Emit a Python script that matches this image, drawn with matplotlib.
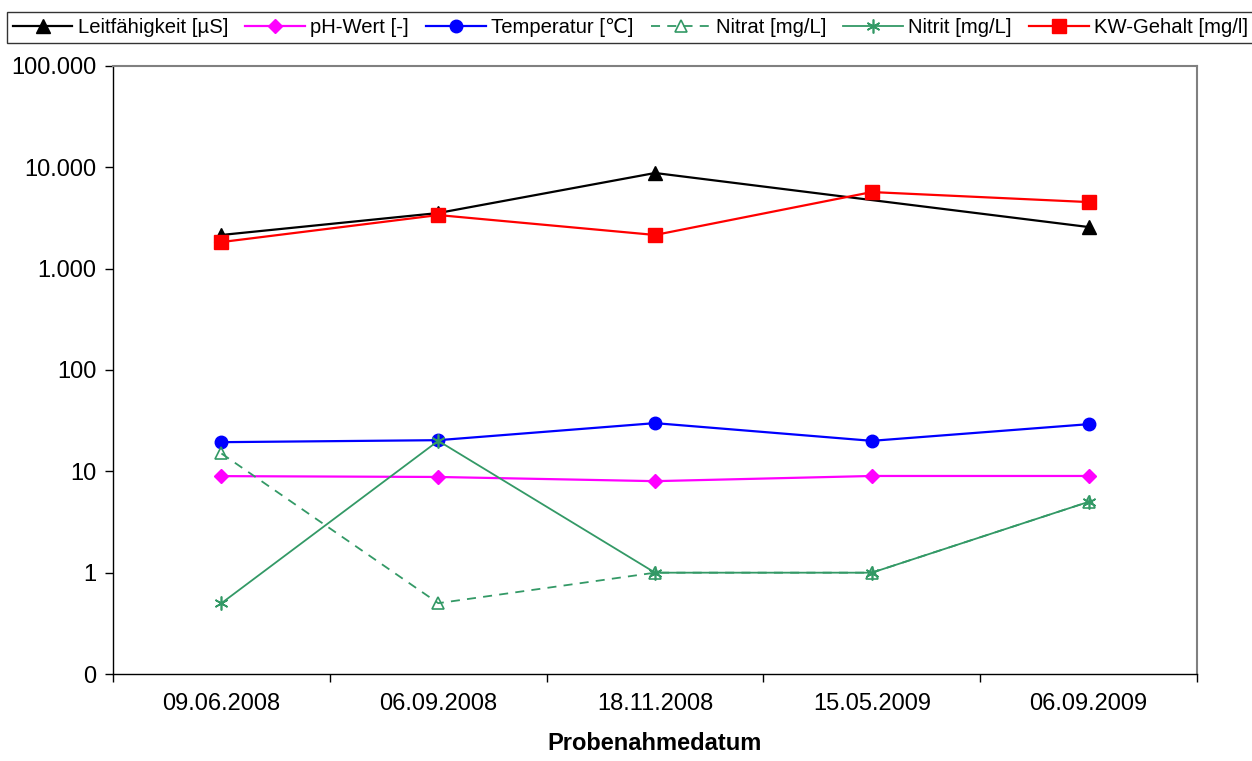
import matplotlib.pyplot as plt
from matplotlib.ticker import FixedLocator, FixedFormatter, NullLocator

plt.rcParams['font.family'] = ['Liberation Sans', 'DejaVu Sans']

dates = ['09.06.2008', '06.09.2008', '18.11.2008', '15.05.2009', '06.09.2009']
leitfaehigkeit = [2150, 3540, 8790, 4750, 2575]
ph_wert = [8.97, 8.8, 8.0, 9.0, 9.0]
temperatur = [19.4, 20.3, 29.9, 20.0, 29.2]
nitrat = [15, 0.5, 1, 1, 5]
nitrit = [0.5, 20, 1, 1, 5]
kw_gehalt = [1830, 3380, 2150, 5700, 4540]

y_ticks = [0.1, 1, 10, 100, 1000, 10000, 100000]
y_labels = ['0', '1', '10', '100', '1.000', '10.000', '100.000']

fig = plt.figure(figsize=(12.52, 7.61), dpi=100)
ax = fig.add_axes([0.0903, 0.1143, 0.8658, 0.799])

x = range(len(dates))
ax.plot(x, leitfaehigkeit, color='black', lw=1.6, marker='^', ms=9.5,
        markevery=[0, 1, 2, 4], label='Leitfähigkeit [µS]')
ax.plot(x, ph_wert, color='#FF00FF', lw=1.6, marker='D', ms=7.5, label='pH-Wert [-]')
ax.plot(x, temperatur, color='#0000FF', lw=1.6, marker='o', ms=9, label='Temperatur [℃]')
ax.plot(x, nitrat, color='#339966', lw=1.3, ls=(0, (5, 4)), marker='^', ms=8.5,
        mfc='none', mew=1.2, label='Nitrat [mg/L]')
ax.plot(x, nitrit, color='#339966', lw=1.3, marker=(6, 2, 0), ms=10, mew=1.2,
        label='Nitrit [mg/L]')
ax.plot(x, kw_gehalt, color='#FF0000', lw=1.6, marker='s', ms=9.5, label='KW-Gehalt [mg/l]')

ax.set_yscale('log')
ax.set_ylim(0.1, 100000)
ax.yaxis.set_major_locator(FixedLocator(y_ticks))
ax.yaxis.set_major_formatter(FixedFormatter(y_labels))
ax.yaxis.set_minor_locator(NullLocator())

ax.set_xlim(-0.5, len(dates) - 0.5)
ax.set_xticks([i + 0.5 for i in range(-1, len(dates))], minor=False)
ax.set_xticklabels([])
ax.set_xticks(list(x), minor=True)
ax.set_xticklabels(dates, minor=True)
ax.tick_params(axis='x', which='minor', length=0, pad=14, labelsize=17)
ax.tick_params(axis='x', which='major', length=6, width=1, direction='out')
ax.tick_params(axis='y', length=6, width=1, direction='out', labelsize=17, pad=6)

for side in ['top', 'right']:
    ax.spines[side].set_color('#808080')
    ax.spines[side].set_linewidth(1.5)
for side in ['left', 'bottom']:
    ax.spines[side].set_color('black')
    ax.spines[side].set_linewidth(1)

ax.set_xlabel('Probenahmedatum', fontsize=17, fontweight='bold', labelpad=12)

leg = fig.legend(loc='upper center', bbox_to_anchor=(0.5035, 0.984), ncol=6,
                 fontsize=14.6, frameon=True, fancybox=False, edgecolor='black',
                 handlelength=2.95, handletextpad=0.25, columnspacing=0.85,
                 borderpad=0.3, borderaxespad=0)
leg.get_frame().set_linewidth(1)

fig.savefig('out.png', dpi=100)
